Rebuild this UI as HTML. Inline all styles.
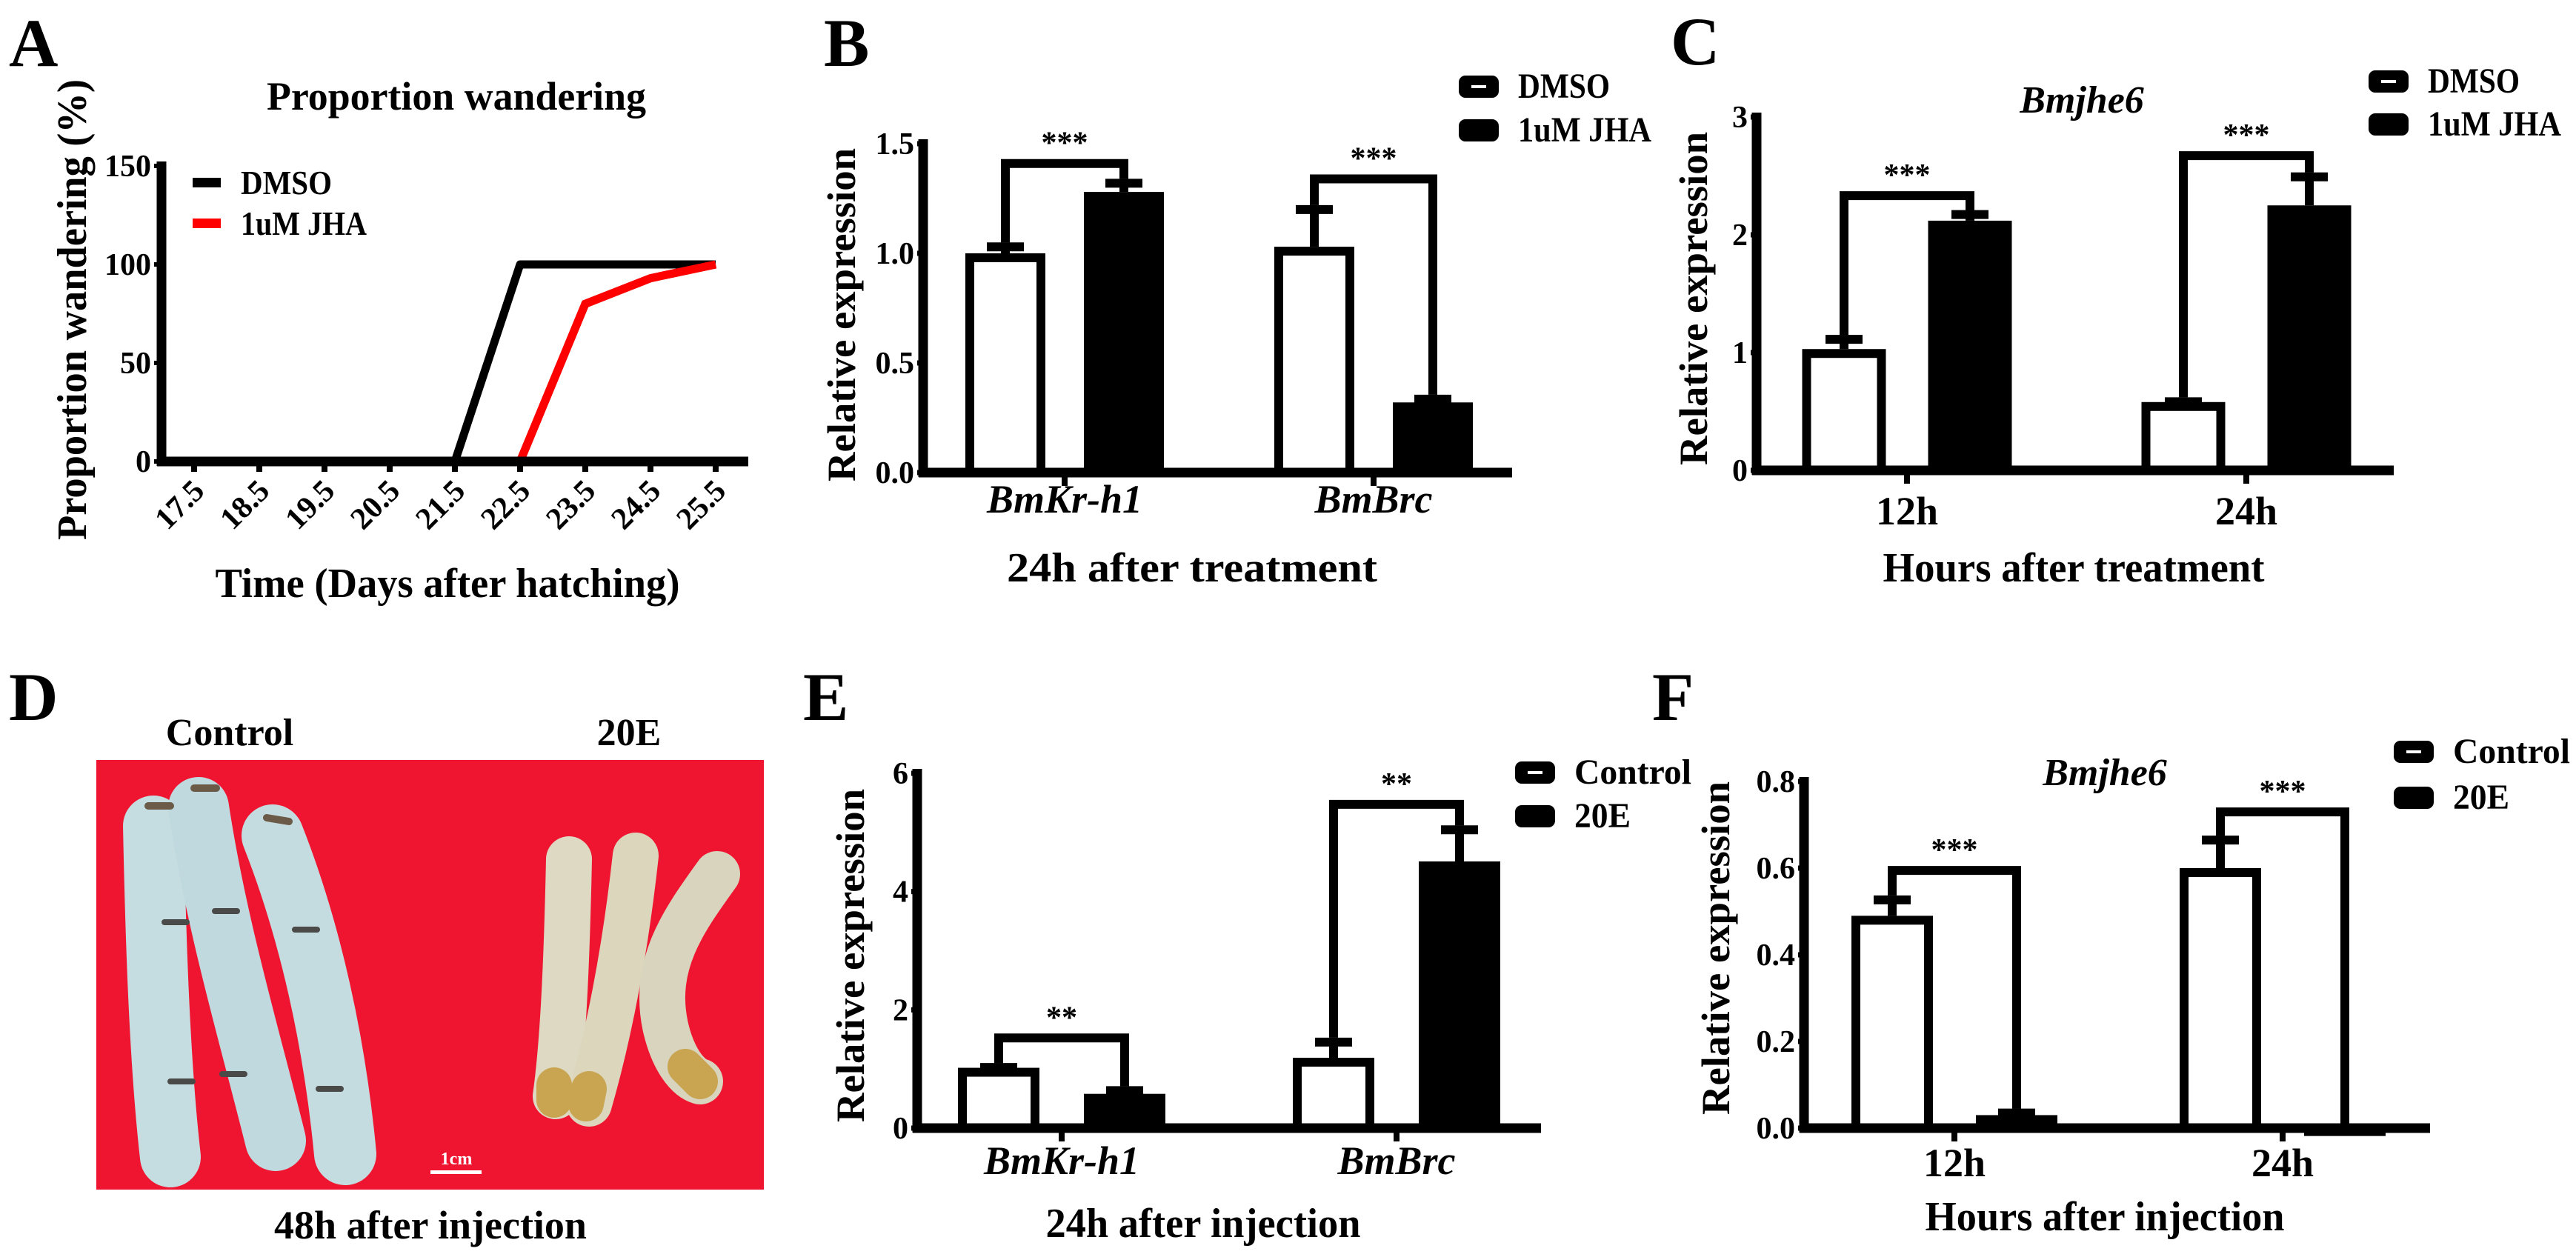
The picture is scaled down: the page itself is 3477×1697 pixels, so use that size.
<!DOCTYPE html>
<html><head><meta charset="utf-8">
<style>
html,body{margin:0;padding:0;background:#fff;}
svg{display:block;}
text{font-family:"Liberation Serif","Tinos","Times New Roman","DejaVu Serif",serif;font-weight:bold;fill:#000;}
</style></head>
<body>
<svg id="fig" width="3477" height="1697" viewBox="0 0 3477 1697" xmlns="http://www.w3.org/2000/svg" font-family="Liberation Serif, Times New Roman, DejaVu Serif, serif">
  <!-- panel letters -->
  <text x="12" y="89" font-size="92">A</text>
  <text x="1112" y="89" font-size="92">B</text>
  <text x="2255" y="87" font-size="92">C</text>
  <text x="12" y="972" font-size="92">D</text>
  <text x="1084" y="972" font-size="92">E</text>
  <text x="2230" y="972" font-size="92">F</text>

  <!-- Panel D photo -->
  <g>
    <text x="310" y="1006" font-size="52" text-anchor="middle">Control</text>
    <text x="849" y="1006" font-size="52" text-anchor="middle">20E</text>
    <rect x="130" y="1026" width="901" height="580" fill="#ef1530"/>
    <g stroke-linecap="round" fill="none">
      <path d="M207,1115 C210,1260 215,1430 230,1562" stroke="#c5dde0" stroke-width="82"/>
      <path d="M268,1090 C292,1250 340,1410 372,1540" stroke="#bfd9de" stroke-width="82"/>
      <path d="M368,1128 C420,1260 452,1410 466,1558" stroke="#c4dcdf" stroke-width="84"/>
      <path d="M200,1088 l30,0" stroke="#6b5a48" stroke-width="10"/>
      <path d="M262,1064 l30,0" stroke="#6b5a48" stroke-width="10"/>
      <path d="M360,1104 l30,5" stroke="#6b5a48" stroke-width="10"/>
      <path d="M222,1245 l30,0 M290,1230 l30,0 M398,1255 l30,0 M230,1460 l30,0 M300,1450 l30,0 M430,1470 l30,0" stroke="#4a4a48" stroke-width="8"/>
    </g>
    <g stroke-linecap="round" fill="none">
      <path d="M768,1160 C765,1300 760,1410 750,1480" stroke="#ddd9c3" stroke-width="62"/>
      <path d="M858,1155 C842,1300 818,1410 795,1490" stroke="#dcd6bc" stroke-width="62"/>
      <path d="M968,1180 C925,1240 880,1300 898,1385 C908,1430 928,1455 945,1460" stroke="#d8d4bd" stroke-width="62"/>
      <path d="M748,1465 l0,20 M795,1470 l-4,20 M925,1440 l20,20" stroke="#c9a552" stroke-width="48"/>
    </g>
    <text x="616" y="1572" font-size="24" style="fill:#fff" text-anchor="middle">1cm</text>
    <rect x="581" y="1580" width="69" height="5" fill="#fff"/>
    <text x="581" y="1672" font-size="54" text-anchor="middle">48h after injection</text>
  </g>
</svg>
<script>
// ---------- Panel A data ----------
const aDays = ['17.5','18.5','19.5','20.5','21.5','22.5','23.5','24.5','25.5'];
const aDmso = [0,0,0,0,0,100,100,100,100];
const aJha = [0,0,0,0,0,0,80,93,100];
const aYTicks = [0,50,100,150];
// ---------- Panel B data ----------
const bCats = ['BmKr-h1','BmBrc'];
const bDmso = [1.0,1.03];
const bDmsoErr = [0.05,0.19];
const bJha = [1.28,0.32];
const bJhaErr = [0.06,0.035];
const bBracket = [1.43,1.36];
const bSig = ['***','***'];
const bYTicks = [0,0.5,1.0,1.5];
const bYLabels = ['0.0','0.5','1.0','1.5'];
// ---------- Panel C data ----------
const cCats = ['12h','24h'];
const cDmso = [1.03,0.58];
const cDmsoErr = [0.12,0.04];
const cJha = [2.12,2.25];
const cJhaErr = [0.09,0.28];
const cBracket = [2.37,2.71];
const cSig = ['***','***'];
const cYTicks = [0,1,2,3];
const cYLabels = ['0','1','2','3'];
// ---------- Panel E data ----------
const eCats = ['BmKr-h1','BmBrc'];
const eCtrl = [1.02,1.19];
const eCtrlErr = [0.08,0.34];
const e20E = [0.58,4.51];
const e20EErr = [0.13,0.61];
const eBracket = [1.6,5.55];
const eSig = ['**','**'];
const eYTicks = [0,2,4,6];
const eYLabels = ['0','2','4','6'];
// ---------- Panel F data ----------
const fCats = ['12h','24h'];
const fCtrl = [0.49,0.60];
const fCtrlErr = [0.047,0.075];
const f20E = [0.03,0.004];
const f20EErr = [0.015,0.002];
const fBracket = [0.605,0.74];
const fSig = ['***','***'];
const fYTicks = [0,0.2,0.4,0.6,0.8];
const fYLabels = ['0.0','0.2','0.4','0.6','0.8'];

const NS = 'http://www.w3.org/2000/svg';
const svg = document.getElementById('fig');
function mk(tag, attrs, parent, txt){
  const e = document.createElementNS(NS, tag);
  for (const k in attrs) e.setAttribute(k, attrs[k]);
  if (txt !== undefined) e.textContent = txt;
  (parent || svg).appendChild(e);
  return e;
}
const SW = 12;
const legendLen = {'DMSO': 124, '1uM JHA': 180, 'Control': 158, '20E': 76};

// ---------- Panel A ----------
(function(){
  const g = mk('g', {});
  
  
  const x0 = 218, y0 = 623, yTop = 224, xEnd = 1010, xFirst = 262, step = 88;
  const ys = v => y0 - (v / 150) * (y0 - yTop);
  const xs = i => xFirst + i * step;
  const t = mk('text', {x: 616, y: 148, 'font-size': 54, 'text-anchor': 'middle', textLength: 512, lengthAdjust: 'spacingAndGlyphs'}, g, 'Proportion wandering');
  
  
  const yt = mk('text', {x: 0, y: 0, 'font-size': 56, 'text-anchor': 'middle', textLength: 622, lengthAdjust: 'spacingAndGlyphs', transform: 'translate(116,418) rotate(-90)'}, g, 'Proportion wandering (%)');
  
  
  const xt = mk('text', {x: 604, y: 806, 'font-size': 56, 'text-anchor': 'middle', textLength: 627, lengthAdjust: 'spacingAndGlyphs'}, g, 'Time (Days after hatching)');
  
  
  aYTicks.forEach(v => {
    const l = mk('text', {x: x0 - 14, y: ys(v) + 14, 'font-size': 42, 'text-anchor': 'end'}, g, String(v));
    
    
    mk('line', {x1: x0 - 10, x2: x0, y1: ys(v), y2: ys(v), stroke: '#000', 'stroke-width': 6}, g);
  });
  aDays.forEach((d, i) => {
    mk('line', {x1: xs(i), x2: xs(i), y1: y0, y2: y0 + 14, stroke: '#000', 'stroke-width': 8}, g);
    const l = mk('text', {x: 0, y: 0, 'font-size': 42, 'text-anchor': 'end', transform: `translate(${xs(i) + 16},${y0 + 42}) rotate(-45)`}, g, d);
    
    
  });
  const pts = arr => arr.map((v, i) => xs(i) + ',' + ys(v)).join(' ');
  const lj = mk('polyline', {points: pts(aJha), fill: 'none', stroke: '#ff0000', 'stroke-width': 11, 'stroke-linejoin': 'round'}, g);
  
  
  const ld = mk('polyline', {points: pts(aDmso), fill: 'none', stroke: '#000', 'stroke-width': 11, 'stroke-linejoin': 'round'}, g);
  
  
  mk('polyline', {points: aJha.slice(5).map((v, i) => xs(i + 5) + ',' + ys(v)).join(' '), fill: 'none', stroke: '#ff0000', 'stroke-width': 11}, g);
  mk('line', {x1: x0, x2: x0, y1: yTop - 6, y2: y0 + 6, stroke: '#000', 'stroke-width': 13}, g);
  mk('line', {x1: x0 - 6, x2: xEnd, y1: y0, y2: y0, stroke: '#000', 'stroke-width': 13}, g);
  const leg = mk('g', {}, g);
  
  
  mk('rect', {x: 260, y: 240, width: 38, height: 13, fill: '#000'}, leg);
  mk('text', {x: 325, y: 262, 'font-size': 46, textLength: 123, lengthAdjust: 'spacingAndGlyphs'}, leg, 'DMSO');
  mk('rect', {x: 260, y: 295, width: 38, height: 13, fill: '#ff0000'}, leg);
  mk('text', {x: 325, y: 317, 'font-size': 46, textLength: 170, lengthAdjust: 'spacingAndGlyphs'}, leg, '1uM JHA');
})();

// ---------- generic bar chart ----------
function barChart(cfg){
  const g = mk('g', {});
  
  
  const ys = v => cfg.y0 - (v / cfg.max) * (cfg.y0 - cfg.yTop);
  const yt = mk('text', {x: 0, y: 0, 'font-size': 54, 'text-anchor': 'middle', textLength: 450, lengthAdjust: 'spacingAndGlyphs', transform: `translate(${cfg.yTitleX},${cfg.yTitleY}) rotate(-90)`}, g, 'Relative expression');
  
  
  if (cfg.title){
    const tt = mk('text', {x: cfg.titleX, y: cfg.titleY, 'font-size': 52, 'font-style': 'italic', 'text-anchor': 'middle'}, g, cfg.title);
    
    
  }
  const xt = mk('text', {x: cfg.xTitleX, y: cfg.xTitleY, 'font-size': 56, 'text-anchor': 'middle', textLength: cfg.xTitleLen, lengthAdjust: 'spacingAndGlyphs'}, g, cfg.xTitle);
  
  
  cfg.yTicks.forEach((v, i) => {
    const l = mk('text', {x: cfg.x0 - 12, y: ys(v) + 14, 'font-size': 42, 'text-anchor': 'end'}, g, cfg.yLabels[i]);
    
    
    mk('line', {x1: cfg.x0 - 8, x2: cfg.x0, y1: ys(v), y2: ys(v), stroke: '#000', 'stroke-width': 7}, g);
  });
  cfg.cats.forEach((c, i) => {
    const cx = cfg.ticks[i];
    mk('line', {x1: cx, x2: cx, y1: cfg.y0, y2: cfg.y0 + 18, stroke: '#000', 'stroke-width': 8}, g);
    const l = mk('text', {x: cx, y: cfg.catY, 'font-size': 54, 'text-anchor': 'middle', 'font-style': cfg.italicCats ? 'italic' : 'normal'}, g, c);
    
    
    const series = [[cfg.a, cfg.aErr, '#fff', -cfg.off], [cfg.b, cfg.bErr, '#000', cfg.off]];
    series.forEach((s, si) => {
      const v = s[0][i], e = s[1][i], bx = cx + s[3];
      const eb = mk('line', {x1: bx, x2: bx, y1: ys(v), y2: ys(v + e), stroke: '#000', 'stroke-width': SW}, g);
      
      
      mk('line', {x1: bx - 25, x2: bx + 25, y1: ys(v + e) + 6, y2: ys(v + e) + 6, stroke: '#000', 'stroke-width': SW}, g);
      const h = Math.max(cfg.y0 - ys(v) - SW / 2, 1);
      const r = mk('rect', {x: bx - cfg.bw / 2 + SW / 2, y: ys(v) + SW / 2, width: cfg.bw - SW, height: h, fill: s[2], stroke: '#000', 'stroke-width': SW}, g);
      
      
    });
    const lx = cx - cfg.off, rx = cx + cfg.off, top = ys(cfg.bracket[i]) + 6;
    const br = mk('polyline', {points: `${lx},${ys(cfg.a[i] + cfg.aErr[i])} ${lx},${top} ${rx},${top} ${rx},${ys(cfg.b[i] + cfg.bErr[i])}`, fill: 'none', stroke: '#000', 'stroke-width': SW}, g);
    
    
    const st = mk('text', {x: cx, y: top - 14, 'font-size': 42, 'font-weight': 'normal', 'text-anchor': 'middle'}, g, cfg.sig[i]);
    
    
  });
  mk('line', {x1: cfg.x0, x2: cfg.x0, y1: cfg.yTop - 6, y2: cfg.y0 + 6, stroke: '#000', 'stroke-width': 13}, g);
  mk('line', {x1: cfg.x0 - 6, x2: cfg.xEnd, y1: cfg.y0, y2: cfg.y0, stroke: '#000', 'stroke-width': 13}, g);
  const leg = mk('g', {}, g);
  
  
  cfg.legend.forEach((name, i) => {
    const ly = cfg.legY[i];
    mk('rect', {x: cfg.legX, y: ly - 15, width: 54, height: 30, rx: 9, fill: '#000'}, leg);
    if (i === 0) mk('rect', {x: cfg.legX + 17, y: ly - 2, width: 20, height: 4, fill: '#fff'}, leg);
    mk('text', {x: cfg.legX + 80, y: ly + 15, 'font-size': 48, textLength: legendLen[name], lengthAdjust: 'spacingAndGlyphs'}, leg, name);
  });
}

barChart({name: 'panel-b-bar-chart', cats: bCats, a: bDmso, aErr: bDmsoErr, b: bJha, bErr: bJhaErr, bracket: bBracket, sig: bSig,
  yTicks: bYTicks, yLabels: bYLabels, max: 1.5, x0: 1246, y0: 638, yTop: 194, xEnd: 2041, ticks: [1437, 1854], off: 80, bw: 108,
  italicCats: true, catY: 692, xTitle: '24h after treatment', xTitleLen: 500, xTitleX: 1609, xTitleY: 785, yTitleX: 1154, yTitleY: 425,
  legend: ['DMSO', '1uM JHA'], legX: 1969, legY: [117, 176]});
barChart({name: 'panel-c-bar-chart', cats: cCats, a: cDmso, aErr: cDmsoErr, b: cJha, bErr: cJhaErr, bracket: cBracket, sig: cSig,
  yTicks: cYTicks, yLabels: cYLabels, max: 3, x0: 2371, y0: 635, yTop: 158, xEnd: 3231, ticks: [2574, 3032], off: 85, bw: 113,
  italicCats: false, catY: 708, xTitle: 'Hours after treatment', xTitleLen: 515, xTitleX: 2799, xTitleY: 785, yTitleX: 2304, yTitleY: 403,
  title: 'Bmjhe6', titleX: 2810, titleY: 152, legend: ['DMSO', '1uM JHA'], legX: 3197, legY: [110, 168]});
barChart({name: 'panel-e-bar-chart', cats: eCats, a: eCtrl, aErr: eCtrlErr, b: e20E, bErr: e20EErr, bracket: eBracket, sig: eSig,
  yTicks: eYTicks, yLabels: eYLabels, max: 6, x0: 1238, y0: 1523, yTop: 1044, xEnd: 2080, ticks: [1433, 1885], off: 85, bw: 110,
  italicCats: true, catY: 1585, xTitle: '24h after injection', xTitleLen: 425, xTitleX: 1624, xTitleY: 1670, yTitleX: 1166, yTitleY: 1290,
  legend: ['Control', '20E'], legX: 2045, legY: [1043, 1102]});
barChart({name: 'panel-f-bar-chart', cats: fCats, a: fCtrl, aErr: fCtrlErr, b: f20E, bErr: f20EErr, bracket: fBracket, sig: fSig,
  yTicks: fYTicks, yLabels: fYLabels, max: 0.8, x0: 2435, y0: 1523, yTop: 1055, xEnd: 3280, ticks: [2638, 3081], off: 84, bw: 110,
  italicCats: false, catY: 1588, xTitle: 'Hours after injection', xTitleLen: 485, xTitleX: 2841, xTitleY: 1661, yTitleX: 2334, yTitleY: 1280,
  title: 'Bmjhe6', titleX: 2841, titleY: 1060, legend: ['Control', '20E'], legX: 3231, legY: [1015, 1077]});
</script>
</body></html>
